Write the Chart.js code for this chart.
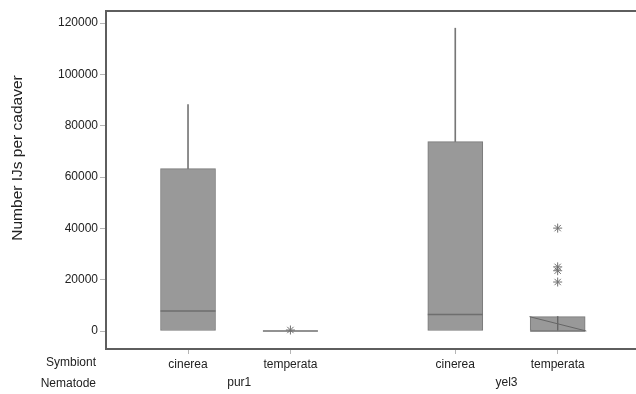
<!DOCTYPE html>
<html>
<head>
<meta charset="utf-8">
<script src="https://cdn.jsdelivr.net/npm/chart.js@4.4.1/dist/chart.umd.min.js"></script>
<style>
  html, body { margin: 0; padding: 0; background: #fff; }
  #wrap { width: 636px; height: 394px; position: relative; }
</style>
</head>
<body>
<div id="wrap"><canvas id="c" width="636" height="394"></canvas></div>
<script>
// Symbiont / nematode combinations, in plotting order
const symbionts = ['cinerea', 'temperata', 'cinerea', 'temperata'];
const nematodes = ['pur1', 'pur1', 'yel3', 'yel3'];
const groupNames = ['pur1', 'yel3'];
// x positions of each box (wider gap between nematode groups)
const positions = [1, 2, 3.61, 4.61];
const groupCenters = [1.5, 4.11];

// Box statistics, IJs per cadaver
const q1 = [0, 0, 0, 0];
const q3 = [63300, 0, 73800, 5600];
const medians = [7800, 0, 6400, 0];
const whiskerTop = [88200, 0, 118000, 5600];
const outliers = [[], [400], [], [40100, 25000, 23500, 19100]];

// Reference lines inside the yel3 / temperata box
const slantX = [4.335, 4.89];
const slantY = [5600, 0];
const centerX = [4.61, 4.61];
const centerY = [5600, 300];

const yTicks = [0, 20000, 40000, 60000, 80000, 100000, 120000];
const yTitle = 'Number IJs per cadaver';

const FONT = "'Liberation Sans', Arial, sans-serif";
const TEXT = '#222';
const FRAME = '#5e5e5e';

const boxData = positions.map((x, i) => ({ x, y: [q1[i], q3[i]] }));
const whiskerData = positions.map((x, i) => ({ x, y: [q3[i], whiskerTop[i]] }));
const medianData = positions.map((x, i) => ({ x, y: medians[i] }));
const outlierData = [];
outliers.forEach((vals, i) => vals.forEach(v => outlierData.push({ x: positions[i], y: v })));

// keep the plot area flush with the fixed axis sizes
const noOverhang = s => { s.paddingTop = 0; s.paddingBottom = 0; s.paddingLeft = 0; s.paddingRight = 0; };

const framePlugin = {
  id: 'frame',
  afterDraw(chart) {
    const { ctx, chartArea } = chart;
    ctx.save();
    // top edge of the plot frame
    ctx.strokeStyle = FRAME;
    ctx.lineWidth = 2;
    ctx.beginPath();
    ctx.moveTo(chartArea.left - 1, chartArea.top);
    ctx.lineTo(chart.width, chartArea.top);
    ctx.stroke();
    // row captions for the two x label rows
    const xs = chart.scales.x;
    const x2 = chart.scales.x2;
    ctx.fillStyle = TEXT;
    ctx.font = '12px ' + FONT;
    ctx.textAlign = 'right';
    ctx.textBaseline = 'middle';
    ctx.fillText('Symbiont', 96, xs.top + 14);
    ctx.fillText('Nematode', 96, x2.top + 9);
    // vertical axis title
    ctx.translate(18, 158);
    ctx.rotate(-Math.PI / 2);
    ctx.textAlign = 'center';
    ctx.font = '15.5px ' + FONT;
    ctx.fillText(yTitle, 0, 0);
    ctx.restore();
  }
};

new Chart(document.getElementById('c'), {
  type: 'bar',
  data: {
    datasets: [
      {
        type: 'line',
        label: 'slant',
        data: slantX.map((x, i) => ({ x, y: slantY[i] })),
        borderColor: '#666',
        borderWidth: 1,
        pointRadius: 0,
        order: 0
      },
      {
        type: 'line',
        label: 'center',
        data: centerX.map((x, i) => ({ x, y: centerY[i] })),
        borderColor: '#666',
        borderWidth: 1,
        pointRadius: 0,
        order: 0
      },
      {
        type: 'scatter',
        label: 'median',
        data: medianData,
        pointStyle: 'line',
        pointRadius: 27.5,
        borderColor: '#6e6e6e',
        borderWidth: 1.5,
        order: 1
      },
      {
        type: 'scatter',
        label: 'outliers',
        data: outlierData,
        pointStyle: 'star',
        pointRadius: 4.5,
        borderColor: '#707070',
        borderWidth: 1,
        order: 0
      },
      {
        label: 'box',
        data: boxData,
        backgroundColor: '#999999',
        borderColor: '#7a7a7a',
        borderWidth: 1,
        borderSkipped: false,
        barThickness: 55,
        grouped: false,
        order: 2
      },
      {
        label: 'whisker',
        data: whiskerData,
        backgroundColor: '#777777',
        borderWidth: 0,
        barThickness: 1,
        grouped: false,
        order: 3
      }
    ]
  },
  options: {
    responsive: false,
    animation: false,
    devicePixelRatio: 1,
    layout: { autoPadding: false, padding: { top: 11, right: 0, left: 0, bottom: 0 } },
    plugins: { legend: { display: false }, tooltip: { enabled: false } },
    scales: {
      x: {
        type: 'linear',
        position: 'bottom',
        offset: false,
        min: 0.199,
        max: 5.375,
        afterBuildTicks: s => { s.ticks = positions.map(v => ({ value: v })); },
        afterFit: s => { s.height = 26; noOverhang(s); },
        ticks: {
          autoSkip: false,
          maxRotation: 0,
          padding: 3,
          color: TEXT,
          font: { family: FONT, size: 12 },
          callback: (v, i) => symbionts[i]
        },
        grid: { offset: false, drawOnChartArea: false, drawTicks: true, tickLength: 5, color: '#b5b5b5' },
        border: { color: FRAME, width: 2 }
      },
      x2: {
        type: 'linear',
        position: 'bottom',
        offset: false,
        min: 0.199,
        max: 5.375,
        afterBuildTicks: s => { s.ticks = groupCenters.map(v => ({ value: v })); },
        afterFit: s => { s.height = 19; noOverhang(s); },
        ticks: {
          autoSkip: false,
          maxRotation: 0,
          padding: 0,
          color: TEXT,
          font: { family: FONT, size: 12 },
          callback: (v, i) => groupNames[i]
        },
        grid: { display: false, drawTicks: false },
        border: { display: false }
      },
      y: {
        type: 'linear',
        min: -7000,
        max: 124700,
        afterBuildTicks: s => { s.ticks = yTicks.map(v => ({ value: v })); },
        afterFit: s => { s.width = 106; noOverhang(s); },
        ticks: {
          padding: 2,
          color: TEXT,
          font: { family: FONT, size: 12 },
          callback: v => String(v)
        },
        grid: { drawOnChartArea: false, drawTicks: true, tickLength: 6, color: '#b5b5b5' },
        border: { color: FRAME, width: 2 }
      }
    }
  },
  plugins: [framePlugin]
});
</script>
</body>
</html>
